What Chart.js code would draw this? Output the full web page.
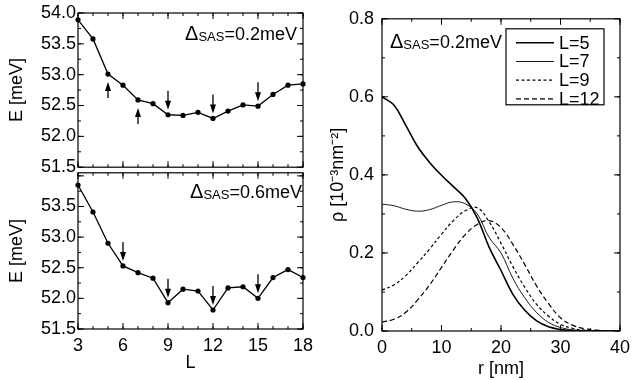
<!DOCTYPE html>
<html>
<head>
<meta charset="utf-8">
<script src="https://cdn.jsdelivr.net/npm/chart.js@4.4.1/dist/chart.umd.min.js"></script>
<style>
  body { margin: 0; background: #fff; }
  #wrap { position: relative; width: 636px; height: 380px; overflow: hidden; }
  .panel { position: absolute; }
</style>
</head>
<body>
<div id="wrap">
  <div class="panel" style="left:0;top:0"><canvas id="topChart" width="320" height="180"></canvas></div>
  <div class="panel" style="left:0;top:160px"><canvas id="bottomChart" width="320" height="220"></canvas></div>
  <div class="panel" style="left:318px;top:0"><canvas id="rhoChart" width="318" height="380"></canvas></div>
</div>
<script>
// energies vs L
const L = [3, 4, 5, 6, 7, 8, 9, 10, 11, 12, 13, 14, 15, 16, 17, 18]
const E_02 = [53.89, 53.58, 53.01, 52.83, 52.59, 52.53, 52.35, 52.34, 52.39, 52.29, 52.41, 52.51, 52.49, 52.68, 52.83, 52.85]
const E_06 = [53.85, 53.41, 52.90, 52.53, 52.42, 52.33, 51.93, 52.15, 52.12, 51.81, 52.17, 52.19, 52.00, 52.34, 52.47, 52.34]
const arrowsUp_02 = [5, 7]
const arrowsDown_02 = [9, 12, 15]
const arrowsDown_06 = [6, 9, 12, 15]

// density profiles
const rNm = [0, 2, 4, 6, 8, 10, 12, 14, 16, 18, 20, 22, 24, 26, 28, 30, 32, 34, 36, 38, 40]
const rho5 = [0.600, 0.579, 0.527, 0.472, 0.432, 0.399, 0.370, 0.340, 0.290, 0.215, 0.155, 0.094, 0.053, 0.026, 0.011, 0.004, 0.001, 0, 0, 0, 0]
const rho7 = [0.325, 0.321, 0.312, 0.307, 0.311, 0.322, 0.331, 0.326, 0.300, 0.240, 0.200, 0.135, 0.085, 0.047, 0.022, 0.009, 0.003, 0.001, 0, 0, 0]
const rho9 = [0.105, 0.118, 0.142, 0.175, 0.210, 0.248, 0.283, 0.308, 0.316, 0.280, 0.225, 0.165, 0.112, 0.068, 0.038, 0.017, 0.007, 0.002, 0.001, 0, 0]
const rho12 = [0.023, 0.030, 0.048, 0.080, 0.118, 0.163, 0.208, 0.247, 0.273, 0.283, 0.265, 0.222, 0.170, 0.115, 0.070, 0.034, 0.015, 0.006, 0.002, 0.001, 0]
const rhoLabels = ['L=5', 'L=7', 'L=9', 'L=12']

Chart.defaults.font.family = '"Liberation Sans", Arial, Helvetica, sans-serif'
Chart.defaults.font.size = 18
Chart.defaults.color = '#000'

// box + inward ticks on all four sides
const framePlugin = {
  id: 'frame',
  afterDatasetsDraw(chart, args, opts) {
    const { ctx, chartArea: a } = chart
    const x = chart.scales.x, y = chart.scales.y
    ctx.save()
    ctx.strokeStyle = '#000'
    ctx.lineWidth = 1.2
    ctx.strokeRect(a.left, a.top, a.right - a.left, a.bottom - a.top)
    ctx.lineWidth = 1
    const marks = (scale, step, len, horiz) => {
      const n = Math.floor((scale.max - scale.min) / step + 1e-6)
      for (let i = 0; i <= n; i++) {
        const p = scale.getPixelForValue(scale.min + i * step)
        ctx.beginPath()
        if (horiz) {
          ctx.moveTo(p, a.bottom); ctx.lineTo(p, a.bottom - len)
          ctx.moveTo(p, a.top); ctx.lineTo(p, a.top + len)
        } else {
          ctx.moveTo(a.left, p); ctx.lineTo(a.left + len, p)
          ctx.moveTo(a.right, p); ctx.lineTo(a.right - len, p)
        }
        ctx.stroke()
      }
    }
    marks(x, opts.xMinor, 3, true)
    marks(x, opts.xMajor, 6, true)
    marks(y, opts.yMinor, 3, false)
    marks(y, opts.yMajor, 6, false)
    ctx.restore()
  }
}

// Δ_SAS label
const deltaPlugin = {
  id: 'delta',
  afterDraw(chart, args, opts) {
    const { ctx, chartArea: a } = chart
    const big = '18px "Liberation Sans", Arial, sans-serif'
    const small = '13px "Liberation Sans", Arial, sans-serif'
    ctx.save()
    ctx.fillStyle = '#000'
    ctx.textBaseline = 'alphabetic'
    ctx.font = '20px "Liberation Sans", Arial, sans-serif'
    const w1 = ctx.measureText('Δ').width
    ctx.font = big
    const w3 = ctx.measureText(opts.text).width
    ctx.font = small
    const w2 = ctx.measureText('SAS').width
    const total = w1 + w2 + w3
    let x0 = opts.alignRight ? a.right - opts.dx - total : a.left + opts.dx
    const base = a.top + opts.dy
    ctx.font = '20px "Liberation Sans", Arial, sans-serif'
    ctx.fillText('Δ', x0, base)
    ctx.font = small
    ctx.fillText('SAS', x0 + w1, base + 1)
    ctx.font = big
    ctx.fillText(opts.text, x0 + w1 + w2, base)
    ctx.restore()
  }
}

// arrows pointing at chosen L values
const arrowPlugin = {
  id: 'arrows',
  afterDatasetsDraw(chart, args, opts) {
    const { ctx } = chart
    const pts = chart.getDatasetMeta(0).data
    const head = (x, tipY, dir) => {
      ctx.beginPath()
      ctx.moveTo(x, tipY)
      ctx.lineTo(x - 3, tipY - dir * 9)
      ctx.lineTo(x + 3, tipY - dir * 9)
      ctx.closePath()
      ctx.fill()
    }
    ctx.save()
    ctx.strokeStyle = '#000'
    ctx.fillStyle = '#000'
    ctx.lineWidth = 1.3
    ;(opts.down || []).forEach(l => {
      const p = pts[L.indexOf(l)]
      const tip = p.y - 5
      ctx.beginPath(); ctx.moveTo(p.x, tip - 19); ctx.lineTo(p.x, tip - 4); ctx.stroke()
      head(p.x, tip, 1)
    })
    ;(opts.up || []).forEach(l => {
      const p = pts[L.indexOf(l)]
      const tip = p.y + 8
      ctx.beginPath(); ctx.moveTo(p.x, tip + 16); ctx.lineTo(p.x, tip + 4); ctx.stroke()
      head(p.x, tip, -1)
    })
    ctx.restore()
  }
}

// boxed legend inside the plot
const boxLegendPlugin = {
  id: 'boxLegend',
  afterDraw(chart, args, opts) {
    const { ctx, chartArea: a } = chart
    const right = a.right - 16, top = a.top + 10, w = 98, h = 76
    const left = right - w
    ctx.save()
    ctx.strokeStyle = '#000'
    ctx.lineWidth = 1.2
    ctx.strokeRect(left, top, w, h)
    ctx.font = '18px "Liberation Sans", Arial, sans-serif'
    ctx.fillStyle = '#000'
    ctx.textBaseline = 'middle'
    chart.data.datasets.forEach((ds, i) => {
      const yy = top + 14 + i * 18.7
      ctx.lineWidth = ds.borderWidth
      ctx.setLineDash(ds.borderDash || [])
      ctx.beginPath(); ctx.moveTo(left + 10, yy); ctx.lineTo(left + 48, yy); ctx.stroke()
      ctx.setLineDash([])
      ctx.fillText(ds.label, left + 53, yy + 1)
    })
    ctx.restore()
  }
}

const fixWidth = w => scale => { scale.width = w }
const fixHeight = h => scale => { scale.height = h }

function energyChart(id, values, yMax, showX, pad, xHeight, arrows, deltaText, deltaPos) {
  return new Chart(document.getElementById(id), {
    type: 'line',
    data: {
      datasets: [{
        data: L.map((l, i) => ({ x: l, y: values[i] })),
        borderColor: '#000',
        backgroundColor: '#000',
        borderWidth: 1.3,
        pointRadius: 2.6,
        pointBorderWidth: 0,
        pointBackgroundColor: '#000',
        tension: 0,
        clip: false
      }]
    },
    options: {
      responsive: false,
      animation: false,
      devicePixelRatio: 1,
      layout: { padding: pad },
      scales: {
        x: {
          type: 'linear', min: 3, max: 18,
          grid: { display: false, drawTicks: false },
          border: { display: false },
          ticks: { display: showX, stepSize: 3, padding: 6, maxRotation: 0 },
          title: { display: showX, text: 'L', padding: { top: 0, bottom: 6 } },
          afterFit: fixHeight(xHeight)
        },
        y: {
          min: 51.5, max: yMax,
          grid: { display: false, drawTicks: false },
          border: { display: false },
          ticks: {
            stepSize: 0.5, padding: 2,
            callback: v => (v > 53.9 && yMax > 54) ? null : v.toFixed(1)
          },
          title: { display: true, text: 'E [meV]', padding: { top: 6, bottom: 0 } },
          afterFit: fixWidth(78)
        }
      },
      plugins: {
        legend: { display: false },
        tooltip: { enabled: false },
        frame: { xMajor: 3, xMinor: 1, yMajor: 0.5, yMinor: 0.25 },
        arrows: arrows,
        delta: Object.assign({ text: deltaText, alignRight: true }, deltaPos)
      }
    },
    plugins: [framePlugin, arrowPlugin, deltaPlugin]
  })
}

energyChart('topChart', E_02, 54.0, false, { top: 13, bottom: 8, left: 0, right: 17 }, 0,
  { up: arrowsUp_02, down: arrowsDown_02 }, '=0.2meV', { dx: 6, dy: 27 })
energyChart('bottomChart', E_06, 54.05, true, { top: 12, bottom: 0, left: 0, right: 17 }, 51,
  { down: arrowsDown_06 }, '=0.6meV', { dx: 1, dy: 25 })

const styles = [
  { w: 1.6, dash: [] },
  { w: 0.9, dash: [] },
  { w: 1.2, dash: [3, 2.5] },
  { w: 1.2, dash: [5, 3] }
]
const rhoSeries = [rho5, rho7, rho9, rho12]

new Chart(document.getElementById('rhoChart'), {
  type: 'line',
  data: {
    datasets: rhoSeries.map((s, k) => ({
      label: rhoLabels[k],
      data: rNm.map((r, i) => ({ x: r, y: s[i] })),
      borderColor: '#000',
      borderWidth: styles[k].w,
      borderDash: styles[k].dash,
      pointRadius: 0,
      tension: 0.4
    }))
  },
  options: {
    responsive: false,
    animation: false,
    devicePixelRatio: 1,
    layout: { padding: { top: 13, bottom: 0, left: 0, right: 13 } },
    scales: {
      x: {
        type: 'linear', min: 0, max: 40,
        grid: { display: false, drawTicks: false },
        border: { display: false },
        ticks: { stepSize: 10, padding: 6, maxRotation: 0 },
        title: { display: true, text: 'r [nm]', padding: { top: 0, bottom: 0 } },
        afterFit: fixHeight(49)
      },
      y: {
        min: 0, max: 0.8,
        grid: { display: false, drawTicks: false },
        border: { display: false },
        ticks: { stepSize: 0.2, padding: 8, callback: v => v.toFixed(1) },
        title: { display: true, text: 'ρ [10⁻³nm⁻²]', padding: { top: 9, bottom: 0 } },
        afterFit: fixWidth(64)
      }
    },
    plugins: {
      legend: { display: false },
      tooltip: { enabled: false },
      frame: { xMajor: 10, xMinor: 5, yMajor: 0.2, yMinor: 0.1 },
      delta: { text: '=0.2meV', alignRight: false, dx: 8, dy: 29 }
    }
  },
  plugins: [framePlugin, deltaPlugin, boxLegendPlugin]
})
</script>
</body>
</html>
